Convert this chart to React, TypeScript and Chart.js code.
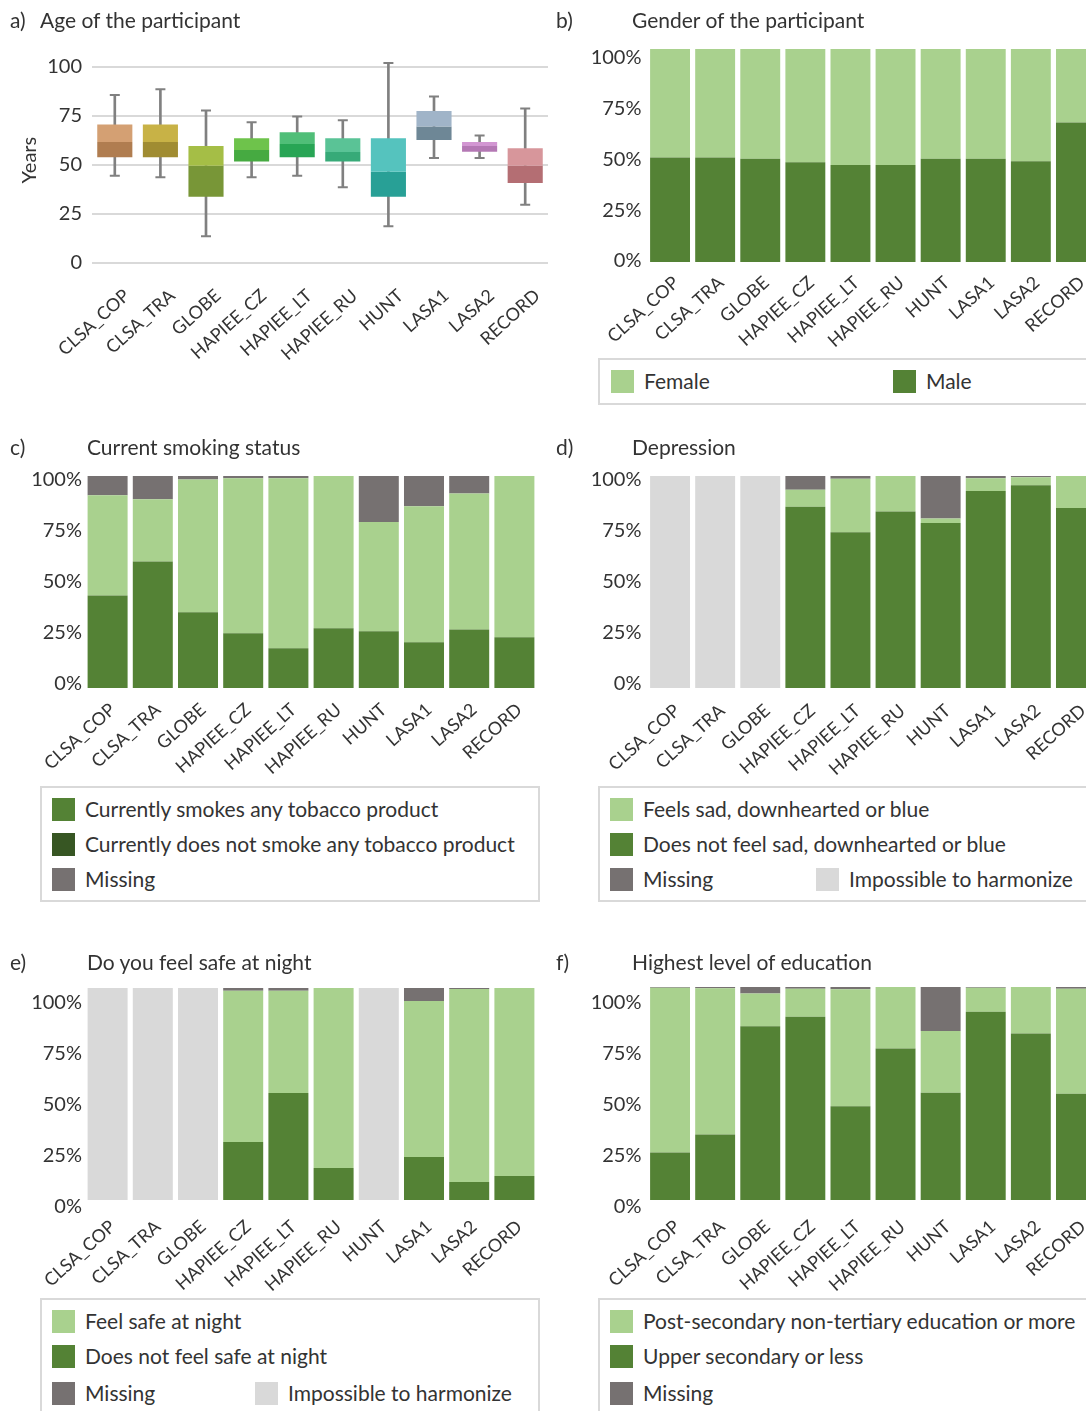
import { useEffect, useRef } from 'react';
import { Chart, registerables } from 'chart.js';

Chart.register(...registerables);

// ---------------- DATA ----------------
const categories = ['CLSA_COP', 'CLSA_TRA', 'GLOBE', 'HAPIEE_CZ', 'HAPIEE_LT', 'HAPIEE_RU', 'HUNT', 'LASA1', 'LASA2', 'RECORD'];
const pctTicks = [0, 25, 50, 75, 100];
const ageTicks = [0, 25, 50, 75, 100];

// a) Age (box plot)
const ageMin = [44.5, 43.7, 13.6, 43.7, 44.5, 38.7, 18.7, 53.6, 53.6, 29.7];
const ageQ1 = [54, 54, 33.8, 51.8, 54, 51.8, 33.8, 62.7, 56.8, 40.8];
const ageMedian = [61.7, 61.7, 49.6, 57.6, 60.7, 56.6, 46.6, 69.7, 59.7, 49.6];
const ageQ3 = [70.6, 70.6, 59.7, 63.7, 66.7, 63.7, 63.7, 77.5, 61.7, 58.5];
const ageMax = [85.7, 88.6, 77.8, 71.8, 74.8, 72.8, 102, 84.9, 65, 78.8];
const ageUpperColors = ['#D4A073', '#C8B246', '#A5BE46', '#6EC34B', '#50BE78', '#5AC396', '#55C3BE', '#A0B4C8', '#D296D2', '#D7969B'];
const ageLowerColors = ['#B07D50', '#A08C32', '#789637', '#46AA41', '#28A555', '#37AA78', '#28A096', '#6E8796', '#B478B4', '#B46E73'];

// b) Gender (%)
const genderMale = [49.1, 49.1, 48.5, 46.8, 45.5, 45.5, 48.5, 48.5, 47.3, 65.5];
const genderFemale = [50.9, 50.9, 51.5, 53.2, 54.5, 54.5, 51.5, 51.5, 52.7, 34.5];

// c) Smoking (%)
const smokingYes = [43.6, 59.7, 35.7, 25.8, 18.7, 28.2, 26.8, 21.6, 27.6, 23.9];
const smokingNo = [47.3, 29.3, 62.7, 73.1, 80.2, 71.8, 51.5, 64.1, 64.2, 76.1];
const smokingMissing = [9.1, 11.0, 1.6, 1.1, 1.1, 0, 21.7, 14.3, 8.2, 0];

// d) Depression (%)
const depressionNo = [0, 0, 0, 85.5, 73.5, 83.3, 77.8, 92.9, 95.6, 84.9];
const depressionSad = [0, 0, 0, 8.0, 25.2, 16.7, 2.2, 6.0, 3.8, 15.1];
const depressionMissing = [0, 0, 0, 6.5, 1.3, 0, 20.0, 1.1, 0.6, 0];
const depressionImpossible = [100, 100, 100, 0, 0, 0, 0, 0, 0, 0];

// e) Feel safe at night (%)
const safetyNo = [0, 0, 0, 27.3, 50.5, 15.1, 0, 20.3, 8.5, 11.3];
const safetyYes = [0, 0, 0, 71.4, 48.2, 84.9, 0, 73.6, 91.0, 88.7];
const safetyMissing = [0, 0, 0, 1.3, 1.3, 0, 0, 6.1, 0.5, 0];
const safetyImpossible = [100, 100, 100, 0, 0, 0, 100, 0, 0, 0];

// f) Education (%)
const educationLow = [22.3, 30.8, 81.6, 86.0, 44.0, 71.1, 50.4, 88.4, 78.2, 49.9];
const educationHigh = [77.4, 68.6, 15.4, 13.2, 54.9, 28.9, 29.0, 11.3, 21.8, 49.3];
const educationMissing = [0.3, 0.6, 3.0, 0.8, 1.1, 0, 20.6, 0.3, 0, 0.8];

// ---------------- STYLE ----------------
const FONT_FAMILY = 'Lato, "Noto Sans", "DejaVu Sans", sans-serif';
const TEXT_COLOR = '#333333';
const LIGHT = '#A9D18E';
const DARK = '#548235';
const DARKER = '#375623';
const MISSING = '#767171';
const IMPOSSIBLE = '#D9D9D9';
const WHISKER = '#808080';

type Rect = { left: number; top: number; width: number; height: number };
type Area = { left: number; top: number; right: number; bottom: number };
type Series = { label: string; data: number[]; color: string };
type XLab = { pad: number; shift: number };

function ChartCanvas({ rect, build }: { rect: Rect; build: () => any }) {
  const ref = useRef<HTMLCanvasElement | null>(null);
  useEffect(() => {
    const chart = new Chart(ref.current as HTMLCanvasElement, build());
    return () => chart.destroy();
  }, []);
  return (
    <div style={{ position: 'absolute', left: rect.left, top: rect.top, width: rect.width, height: rect.height }}>
      <canvas ref={ref} width={rect.width} height={rect.height} style={{ display: 'block', width: rect.width, height: rect.height }} />
    </div>
  );
}

function xAxis(xHeight: number, xl: XLab) {
  return {
    type: 'category',
    offset: true,
    stacked: true,
    grid: { display: false, drawTicks: false },
    border: { display: false },
    ticks: {
      autoSkip: false,
      minRotation: 42,
      maxRotation: 42,
      padding: xl.pad,
      labelOffset: xl.shift,
      color: TEXT_COLOR,
      font: { family: FONT_FAMILY, size: 18 },
    },
    afterFit: (s: any) => {
      s.height = xHeight;
    },
  };
}

function stackedConfig(canvas: Rect, area: Area, labelMin: number, labelMax: number, yPad: number, xl: XLab, series: Series[]) {
  const yWidth = area.left - canvas.left;
  const xHeight = canvas.top + canvas.height - area.bottom;
  return {
    type: 'bar',
    data: {
      labels: categories,
      datasets: series.map((s) => ({
        label: s.label,
        data: s.data,
        backgroundColor: s.color,
        borderWidth: 0,
        barPercentage: 0.885,
        categoryPercentage: 1,
        stack: 'all',
        yAxisID: 'y',
      })),
    },
    options: {
      animation: false,
      responsive: false,
      maintainAspectRatio: false,
      layout: { padding: { left: 0, top: area.top - canvas.top, right: canvas.left + canvas.width - area.right, bottom: 0 } },
      plugins: { legend: { display: false }, tooltip: { enabled: false } },
      scales: {
        x: xAxis(xHeight, xl),
        y: { type: 'linear', display: false, stacked: true, min: 0, max: 100 },
        yl: {
          type: 'linear',
          axis: 'y',
          position: 'left',
          min: labelMin,
          max: labelMax,
          grid: { display: false, drawTicks: false },
          border: { display: false },
          ticks: {
            padding: yPad,
            color: TEXT_COLOR,
            font: { family: FONT_FAMILY, size: 20 },
            callback: (v: any) => `${v}%`,
          },
          afterBuildTicks: (s: any) => {
            s.ticks = pctTicks.map((v) => ({ value: v }));
          },
          afterFit: (s: any) => {
            s.width = yWidth;
          },
        },
      },
    },
  };
}

function ageConfig(canvas: Rect, area: Area, xl: XLab) {
  const yWidth = area.left - canvas.left;
  const xHeight = canvas.top + canvas.height - area.bottom;
  const capStyle = {
    type: 'line',
    showLine: false,
    pointStyle: 'line',
    pointRadius: 5,
    pointHoverRadius: 5,
    pointBorderWidth: 2,
    borderColor: WHISKER,
    backgroundColor: WHISKER,
    order: 0,
  };
  return {
    type: 'bar',
    data: {
      labels: categories,
      datasets: [
        { ...capStyle, label: 'Maximum', data: ageMax },
        { ...capStyle, label: 'Minimum', data: ageMin },
        {
          type: 'bar',
          label: 'Upper quartile',
          data: categories.map((_, i) => [ageMedian[i], ageQ3[i]]),
          backgroundColor: ageUpperColors,
          grouped: false,
          barPercentage: 0.77,
          categoryPercentage: 1,
          order: 1,
        },
        {
          type: 'bar',
          label: 'Lower quartile',
          data: categories.map((_, i) => [ageQ1[i], ageMedian[i]]),
          backgroundColor: ageLowerColors,
          grouped: false,
          barPercentage: 0.77,
          categoryPercentage: 1,
          order: 1,
        },
        {
          type: 'bar',
          label: 'Range',
          data: categories.map((_, i) => [ageMin[i], ageMax[i]]),
          backgroundColor: WHISKER,
          grouped: false,
          barThickness: 2,
          order: 2,
        },
      ],
    },
    options: {
      animation: false,
      responsive: false,
      maintainAspectRatio: false,
      layout: { padding: { left: 0, top: area.top - canvas.top, right: canvas.left + canvas.width - area.right, bottom: 0 } },
      plugins: { legend: { display: false }, tooltip: { enabled: false } },
      scales: {
        x: { ...xAxis(xHeight, xl), stacked: false },
        y: {
          type: 'linear',
          min: 0,
          max: 105,
          grid: { color: '#D9D9D9', lineWidth: 2, drawTicks: false },
          border: { display: false },
          ticks: { padding: 10, color: TEXT_COLOR, font: { family: FONT_FAMILY, size: 20 } },
          title: {
            display: true,
            text: 'Years',
            color: TEXT_COLOR,
            font: { family: FONT_FAMILY, size: 20 },
            padding: { top: 18, bottom: 0 },
          },
          afterBuildTicks: (s: any) => {
            s.ticks = ageTicks.map((v) => ({ value: v }));
          },
          afterFit: (s: any) => {
            s.width = yWidth;
          },
        },
      },
    },
  };
}

// ---------------- LAYOUT ----------------
const rectA: Rect = { left: 0, top: 30, width: 580, height: 350 };
const areaA: Area = { left: 92, top: 57.2, right: 548, bottom: 263 };
const rectB: Rect = { left: 556, top: 25, width: 560, height: 328 };
const areaB: Area = { left: 647.5, top: 49, right: 1098.5, bottom: 262 };
const rectC: Rect = { left: 0, top: 455, width: 556, height: 325 };
const areaC: Area = { left: 85, top: 476, right: 537, bottom: 688 };
const rectD: Rect = { left: 556, top: 455, width: 560, height: 325 };
const areaD: Area = { left: 647.5, top: 476, right: 1098.5, bottom: 688 };
const rectE: Rect = { left: 0, top: 965, width: 556, height: 330 };
const areaE: Area = { left: 85, top: 988, right: 537, bottom: 1200 };
const rectF: Rect = { left: 556, top: 965, width: 560, height: 330 };
const areaF: Area = { left: 647.5, top: 987, right: 1098.5, bottom: 1200 };

function Text({ x, y, children, size = 21 }: { x: number; y: number; children: any; size?: number }) {
  return (
    <div
      style={{
        position: 'absolute',
        left: x,
        top: y - 14,
        height: 28,
        lineHeight: '28px',
        fontSize: size,
        fontFamily: FONT_FAMILY,
        color: TEXT_COLOR,
        whiteSpace: 'nowrap',
      }}
    >
      {children}
    </div>
  );
}

type LegendItem = { x: number; y: number; color: string; text: string };

function Legend({ box, items }: { box: Rect; items: LegendItem[] }) {
  return (
    <>
      <div
        style={{
          position: 'absolute',
          left: box.left,
          top: box.top,
          width: box.width,
          height: box.height,
          border: '2px solid #D9D9D9',
          boxSizing: 'border-box',
          background: '#FFFFFF',
        }}
      />
      {items.map((it, i) => (
        <div key={i}>
          <div style={{ position: 'absolute', left: it.x, top: it.y - 11, width: 23, height: 23, background: it.color }} />
          <Text x={it.x + 33} y={it.y}>
            {it.text}
          </Text>
        </div>
      ))}
    </>
  );
}

export default function App() {
  return (
    <div
      style={{
        position: 'absolute',
        left: 0,
        top: 0,
        width: 1086,
        height: 1411,
        overflow: 'hidden',
        background: '#FFFFFF',
      }}
    >
      <ChartCanvas rect={rectA} build={() => ageConfig(rectA, areaA, { pad: 22, shift: 12 })} />
      <ChartCanvas
        rect={rectB}
        build={() =>
          stackedConfig(rectB, areaB, -0.5, 104.4, 6, { pad: 10, shift: 6 }, [
            { label: 'Male', data: genderMale, color: DARK },
            { label: 'Female', data: genderFemale, color: LIGHT },
          ])
        }
      />
      <ChartCanvas
        rect={rectC}
        build={() =>
          stackedConfig(rectC, areaC, -1.95, 101.5, 3, { pad: 11, shift: 5 }, [
            { label: 'Currently smokes any tobacco product', data: smokingYes, color: DARK },
            { label: 'Currently does not smoke any tobacco product', data: smokingNo, color: LIGHT },
            { label: 'Missing', data: smokingMissing, color: MISSING },
          ])
        }
      />
      <ChartCanvas
        rect={rectD}
        build={() =>
          stackedConfig(rectD, areaD, -1.95, 101.5, 6, { pad: 12, shift: 7 }, [
            { label: 'Does not feel sad, downhearted or blue', data: depressionNo, color: DARK },
            { label: 'Feels sad, downhearted or blue', data: depressionSad, color: LIGHT },
            { label: 'Missing', data: depressionMissing, color: MISSING },
            { label: 'Impossible to harmonize', data: depressionImpossible, color: IMPOSSIBLE },
          ])
        }
      />
      <ChartCanvas
        rect={rectE}
        build={() =>
          stackedConfig(rectE, areaE, 3.4, 107.3, 3, { pad: 16, shift: 5 }, [
            { label: 'Does not feel safe at night', data: safetyNo, color: DARK },
            { label: 'Feel safe at night', data: safetyYes, color: LIGHT },
            { label: 'Missing', data: safetyMissing, color: MISSING },
            { label: 'Impossible to harmonize', data: safetyImpossible, color: IMPOSSIBLE },
          ])
        }
      />
      <ChartCanvas
        rect={rectF}
        build={() =>
          stackedConfig(rectF, areaF, 3.4, 107.8, 6, { pad: 16, shift: 7 }, [
            { label: 'Upper secondary or less', data: educationLow, color: DARK },
            { label: 'Post-secondary non-tertiary education or more', data: educationHigh, color: LIGHT },
            { label: 'Missing', data: educationMissing, color: MISSING },
          ])
        }
      />

      {/* Titles */}
      <Text x={10} y={20}>a)</Text>
      <Text x={40} y={20}>Age of the participant</Text>
      <Text x={556} y={20}>b)</Text>
      <Text x={632} y={20}>Gender of the participant</Text>
      <Text x={10} y={447}>c)</Text>
      <Text x={87} y={447}>Current smoking status</Text>
      <Text x={556} y={447}>d)</Text>
      <Text x={632} y={447}>Depression</Text>
      <Text x={10} y={962}>e)</Text>
      <Text x={87} y={962}>Do you feel safe at night</Text>
      <Text x={556} y={962}>f)</Text>
      <Text x={632} y={962}>Highest level of education</Text>

      <Legend
        box={{ left: 598, top: 358, width: 520, height: 47 }}
        items={[
          { x: 611, y: 381, color: LIGHT, text: 'Female' },
          { x: 893, y: 381, color: DARK, text: 'Male' },
        ]}
      />
      <Legend
        box={{ left: 40, top: 786, width: 500, height: 116 }}
        items={[
          { x: 52, y: 809, color: DARK, text: 'Currently smokes any tobacco product' },
          { x: 52, y: 844, color: DARKER, text: 'Currently does not smoke any tobacco product' },
          { x: 52, y: 879, color: MISSING, text: 'Missing' },
        ]}
      />
      <Legend
        box={{ left: 598, top: 786, width: 520, height: 116 }}
        items={[
          { x: 610, y: 809, color: LIGHT, text: 'Feels sad, downhearted or blue' },
          { x: 610, y: 844, color: DARK, text: 'Does not feel sad, downhearted or blue' },
          { x: 610, y: 879, color: MISSING, text: 'Missing' },
          { x: 816, y: 879, color: IMPOSSIBLE, text: 'Impossible to harmonize' },
        ]}
      />
      <Legend
        box={{ left: 40, top: 1298, width: 500, height: 130 }}
        items={[
          { x: 52, y: 1321, color: LIGHT, text: 'Feel safe at night' },
          { x: 52, y: 1356, color: DARK, text: 'Does not feel safe at night' },
          { x: 52, y: 1393, color: MISSING, text: 'Missing' },
          { x: 255, y: 1393, color: IMPOSSIBLE, text: 'Impossible to harmonize' },
        ]}
      />
      <Legend
        box={{ left: 598, top: 1298, width: 520, height: 130 }}
        items={[
          { x: 610, y: 1321, color: LIGHT, text: 'Post-secondary non-tertiary education or more' },
          { x: 610, y: 1356, color: DARK, text: 'Upper secondary or less' },
          { x: 610, y: 1393, color: MISSING, text: 'Missing' },
        ]}
      />
    </div>
  );
}
